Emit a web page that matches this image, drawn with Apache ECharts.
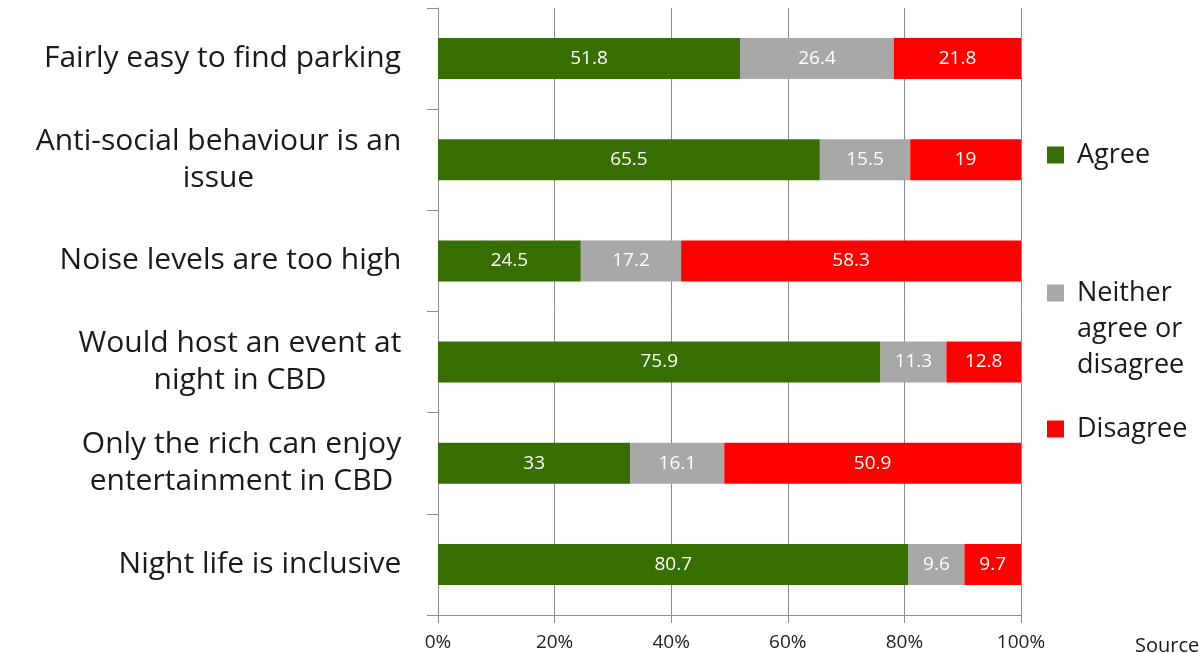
<!DOCTYPE html>
<html><head><meta charset="utf-8">
<script src="https://cdn.jsdelivr.net/npm/echarts@6/dist/echarts.min.js"></script>
<style>html,body{margin:0;padding:0;background:#fff}#c{width:1202px;height:653px}</style>
</head><body><div id="c"></div>
<script>
const categories = [
  'Fairly easy to find parking',
  'Anti-social behaviour is an\nissue',
  'Noise levels are too high',
  'Would host an event at\nnight in CBD',
  'Only the rich can enjoy\nentertainment in CBD',
  'Night life is inclusive'
];
const seriesNames = ['Agree', 'Neither agree or disagree', 'Disagree'];
const agree = [51.8, 65.5, 24.5, 75.9, 33, 80.7];
const neither = [26.4, 15.5, 17.2, 11.3, 16.1, 9.6];
const disagree = [21.8, 19, 58.3, 12.8, 50.9, 9.7];
const xTickLabels = ['0%', '20%', '40%', '60%', '80%', '100%'];

const FONT = '"Open Sans", "Noto Sans", sans-serif';
const Y_FONT_SIZE = 30;
const canvas = document.createElement('canvas');
const ctx = canvas.getContext('2d');
ctx.font = Y_FONT_SIZE + 'px "Open Sans"';

const rich = {};
categories.forEach((c, i) => {
  const lines = c.split('\n');
  const w = Math.max(...lines.map(l => ctx.measureText(l).width));
  rich['l' + i] = { width: Math.ceil(w) + 1, align: 'center', fontSize: Y_FONT_SIZE, fontFamily: FONT, color: '#1a1a1a', lineHeight: 37 };
});

const chart = echarts.init(document.getElementById('c'), null, { renderer: 'canvas' });
const labelStyle = { show: true, position: 'inside', color: '#ffffff', fontSize: 19, fontFamily: FONT };
const colors = ['#386f02', '#a8a8a8', '#ff0000'];
const dataArr = [agree, neither, disagree];
const legendText = { fontSize: 27, fontFamily: FONT, color: '#1a1a1a', lineHeight: 30, padding: [0, 0, 0, 8] };

chart.setOption({
  animation: false,
  backgroundColor: '#ffffff',
  grid: { left: 438, right: 181, top: 8, bottom: 38, containLabel: false },
  xAxis: {
    type: 'value', min: 0, max: 100, interval: 20,
    axisLine: { show: true, lineStyle: { color: '#8c8c8c', width: 1 } },
    axisTick: { show: true, length: 8, lineStyle: { color: '#8c8c8c' } },
    splitLine: { show: true, lineStyle: { color: '#8c8c8c', width: 1 } },
    axisLabel: {
      margin: 18, fontSize: 19, fontFamily: FONT, color: '#222',
      formatter: (v) => xTickLabels[Math.round(v / 20)]
    }
  },
  yAxis: {
    type: 'category', data: categories, inverse: true,
    axisLine: { show: true, lineStyle: { color: '#8c8c8c', width: 1 } },
    axisTick: { show: true, length: 11, lineStyle: { color: '#8c8c8c' } },
    axisLabel: {
      margin: 36, align: 'right',
      formatter: (value, idx) => value.split('\n').map(l => '{l' + idx + '|' + l + '}').join('\n'),
      rich: rich
    }
  },
  legend: [
    { data: ['Agree'], left: 1047, top: 140, padding: 0, itemWidth: 17, itemHeight: 17, icon: 'rect', textStyle: legendText },
    { data: ['Neither agree or disagree'], left: 1047, top: 278, padding: 0, itemWidth: 17, itemHeight: 17, icon: 'rect',
      formatter: () => 'Neither', textStyle: legendText },
    { data: ['Disagree'], left: 1047, top: 414, padding: 0, itemWidth: 17, itemHeight: 17, icon: 'rect', textStyle: legendText }
  ],
  graphic: [
    { type: 'text', left: 1077, top: 311, style: { text: 'agree or\ndisagree', fontSize: 27, fontFamily: FONT, fill: '#1a1a1a', lineHeight: 36 } },
    { type: 'text', left: 1135, top: 636, style: { text: 'Source', fontSize: 20, fontFamily: FONT, fill: '#1a1a1a' } }
  ],
  series: seriesNames.map((n, k) => ({
    name: n, type: 'bar', stack: 'total', barWidth: 41,
    itemStyle: { color: colors[k] },
    label: labelStyle,
    data: dataArr[k]
  }))
});
</script></body></html>
